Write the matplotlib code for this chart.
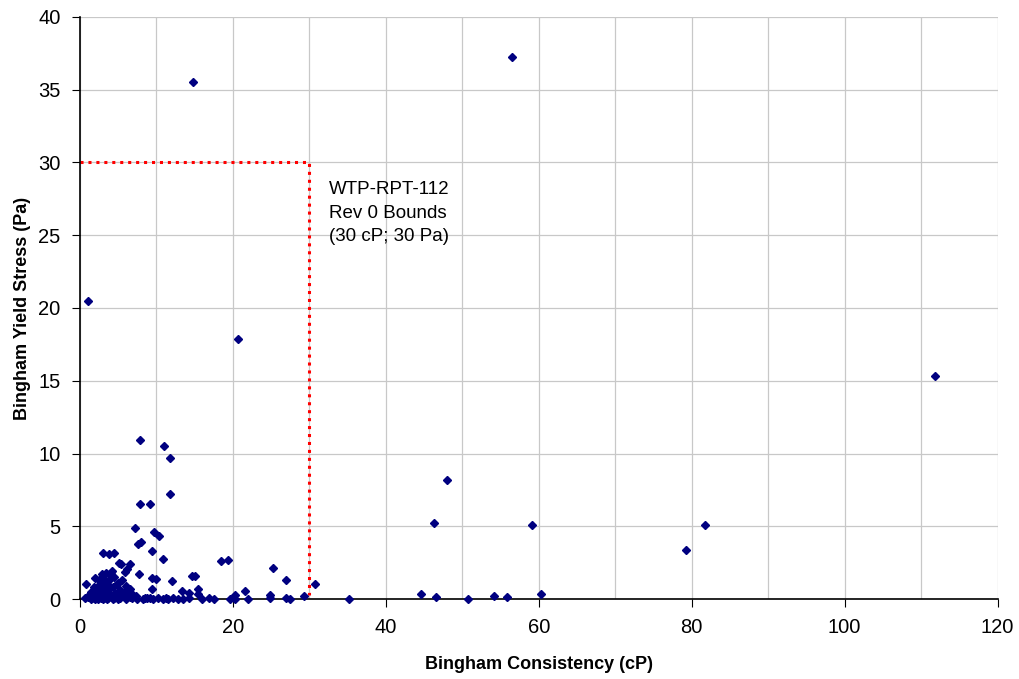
import matplotlib.pyplot as plt
from matplotlib.ticker import MultipleLocator

plt.rcParams['font.family'] = ['Liberation Sans', 'DejaVu Sans']

# Bingham consistency (cP) and yield stress (Pa) for each sample
consistency = [
    14.8, 56.5, 1.0, 20.65, 111.8, 48.0, 46.3, 59.1, 81.8, 79.3,
    30.8, 35.2, 44.6, 46.5, 50.8, 54.2, 55.9, 60.3,
    7.9, 11.0, 11.8, 11.8, 7.9, 9.2, 7.2, 9.7, 10.3, 7.6, 8.0, 9.45, 10.9,
    3.0, 3.75, 4.5, 5.05, 5.4, 6.5, 6.15, 5.85, 7.7, 4.1,
    9.45, 10.0, 12.0, 14.7, 9.45, 13.4, 14.2, 15.5, 15.5, 15.0,
    18.5, 19.3, 25.3, 26.9, 29.3, 21.6, 20.3, 19.6, 20.3, 22.0,
    24.8, 24.8, 27.0, 27.5, 16.9, 17.5,
    0.8, 2.0, 1.5, 2.5, 3.0, 3.5, 4.0, 4.5, 5.0, 5.5, 6.0, 6.5,
    1.2, 1.8, 2.3, 2.8, 3.3, 3.8, 4.3, 4.8, 5.3, 5.8, 6.3, 7.0,
    2.1, 2.6, 3.1, 3.6, 4.1, 4.6, 5.1, 5.6, 3.4, 4.2, 2.9, 3.9,
    0.6, 1.1, 1.6, 2.2, 2.7, 3.2, 3.7, 4.4, 5.2, 6.0, 6.8, 7.5,
    8.2, 8.8, 9.5, 10.2, 10.8, 11.5, 12.2, 12.8, 13.5, 14.3, 16.0,
    2.4, 3.0, 3.6, 4.3, 5.0, 1.4, 2.0, 6.6, 7.3, 8.5, 9.1, 11.2,
]
yield_stress = [
    35.5, 37.25, 20.45, 17.85, 15.3, 8.2, 5.2, 5.1, 5.1, 3.4,
    1.05, 0.0, 0.35, 0.15, 0.0, 0.2, 0.13, 0.35,
    10.9, 10.5, 9.7, 7.25, 6.5, 6.5, 4.85, 4.6, 4.3, 3.8, 3.9, 3.3, 2.75,
    3.15, 3.1, 3.15, 2.5, 2.4, 2.4, 2.05, 1.85, 1.72, 1.75,
    1.45, 1.37, 1.25, 1.58, 0.69, 0.57, 0.42, 0.69, 0.32, 1.58,
    2.6, 2.65, 2.1, 1.3, 0.23, 0.53, 0.27, 0.0, 0.0, 0.0,
    0.27, 0.07, 0.07, 0.0, 0.1, 0.0,
    1.05, 1.45, 0.5, 1.3, 1.4, 1.2, 1.6, 1.5, 1.1, 1.3, 0.9, 0.7,
    0.3, 0.8, 0.9, 1.0, 0.7, 0.9, 0.8, 1.0, 0.6, 0.5, 0.4, 0.3,
    0.4, 0.5, 0.3, 0.6, 0.3, 0.4, 0.2, 0.3, 1.8, 1.9, 1.7, 1.4,
    0.1, 0.15, 0.1, 0.05, 0.1, 0.05, 0.1, 0.05, 0.1, 0.0, 0.1, 0.0,
    0.0, 0.05, 0.0, 0.05, 0.0, 0.0, 0.05, 0.0, 0.0, 0.05, 0.0,
    0.0, 0.0, 0.0, 0.0, 0.0, 0.0, 0.0, 0.15, 0.2, 0.1, 0.1, 0.1,
]

# WTP-RPT-112 Rev 0 bounds
bound_cp = 30
bound_pa = 30

fig = plt.figure(figsize=(10.2, 6.79), dpi=100)
ax = fig.add_axes([0.0784, 0.1178, 0.8996, 0.8572])

ax.plot(consistency, yield_stress, linestyle='none', marker='D',
        markersize=4.4, color='#000080', zorder=3, clip_on=False)

ax.plot([0, bound_cp, bound_cp], [bound_pa, bound_pa, 0.25],
        color='red', linestyle=(0, (1, 1.6)), linewidth=2.2, zorder=2)

ax.text(32.6, 28.7, 'WTP-RPT-112\nRev 0 Bounds\n(30 cP; 30 Pa)',
        fontsize=13.5, va='top', ha='left', linespacing=1.5)

ax.set_xlim(0, 120)
ax.set_ylim(0, 40)
ax.xaxis.set_major_locator(MultipleLocator(20))
ax.xaxis.set_minor_locator(MultipleLocator(10))
ax.yaxis.set_major_locator(MultipleLocator(5))
ax.grid(True, which='both', color='#c8c8c8', linewidth=0.9, zorder=0)
ax.set_axisbelow(True)

ax.spines['top'].set_visible(False)
ax.spines['right'].set_visible(False)
ax.spines['left'].set_linewidth(1.2)
ax.spines['bottom'].set_linewidth(1.2)
ax.tick_params(which='major', direction='out', length=6, labelsize=14.5, pad=8)
ax.tick_params(which='minor', length=0)

ax.set_xlabel('Bingham Consistency (cP)', fontsize=13, fontweight='bold', labelpad=13)
ax.set_ylabel('Bingham Yield Stress (Pa)', fontsize=13, fontweight='bold', labelpad=5)

fig.savefig('out.png', dpi=100)
